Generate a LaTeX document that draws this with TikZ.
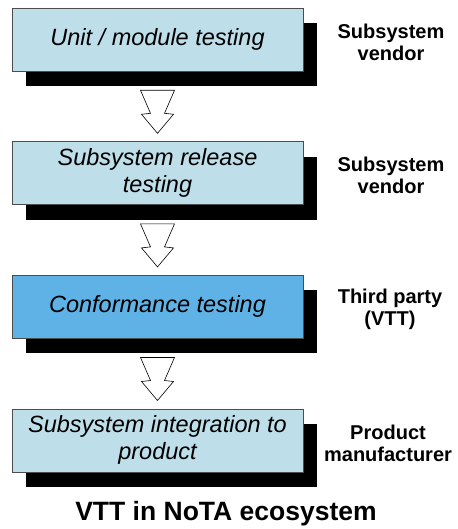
\documentclass[tikz,border=0pt]{standalone}
\usepackage{fontspec}
\setmainfont{Liberation Sans}
\usepackage{tikz}
\usetikzlibrary{calc, positioning, shadows}

\definecolor{stepblue}{RGB}{190, 223, 234}
\definecolor{vttblue}{RGB}{95, 178, 230}

\tikzset{
    phasebox/.style={draw=black!70, line width=0.6pt, fill=stepblue,
        minimum width=291pt, minimum height=63pt, align=center,
        font=\fontsize{23.5}{27}\selectfont\itshape,
        drop shadow={shadow xshift=14pt, shadow yshift=-15pt, fill=black, opacity=1}},
    rolelabel/.style={align=center, font=\fontsize{20}{22}\selectfont\bfseries},
    blockarrow/.style={draw=black, line width=0.6pt, fill=white, line join=miter}
}

% block arrow from below the shadow of #1
\newcommand{\flowarrow}[1]{%
    \draw[blockarrow] ($(#1.south)+(-17,19)$) -- ++(10,23) -- ++(-9,1) -- ++(16,19)
        -- ++(16,-19) -- ++(-9,-1) -- ++(10,-23) -- cycle;
}

\begin{document}
\begin{tikzpicture}[x=1pt, y=-1pt, node distance=70pt]
    \useasboundingbox (0,0) rectangle (457,529);

    \node[phasebox] (unit) at (157.5, 39.5) {Unit / module testing};
    \node[phasebox, below=of unit] (release) {Subsystem release\\testing};
    \node[phasebox, below=of release, fill=vttblue] (conform) {Conformance testing};
    \node[phasebox, below=of conform] (integr) {Subsystem integration to\\product};

    \flowarrow{unit}
    \flowarrow{release}
    \flowarrow{conform}

    \node[rolelabel] (vendor1) at (391, 42) {Subsystem\\vendor};
    \node[rolelabel] (vendor2) at (391, 175) {Subsystem\\vendor};
    \node[rolelabel] (third) at (390, 309) {Third party\\(VTT)};
    \node[rolelabel] (maker) at (388, 443) {Product\\manufacturer};

    \node[font=\fontsize{26.5}{30}\selectfont\bfseries] (title) at (226, 514) {VTT in NoTA ecosystem};
\end{tikzpicture}
\end{document}
